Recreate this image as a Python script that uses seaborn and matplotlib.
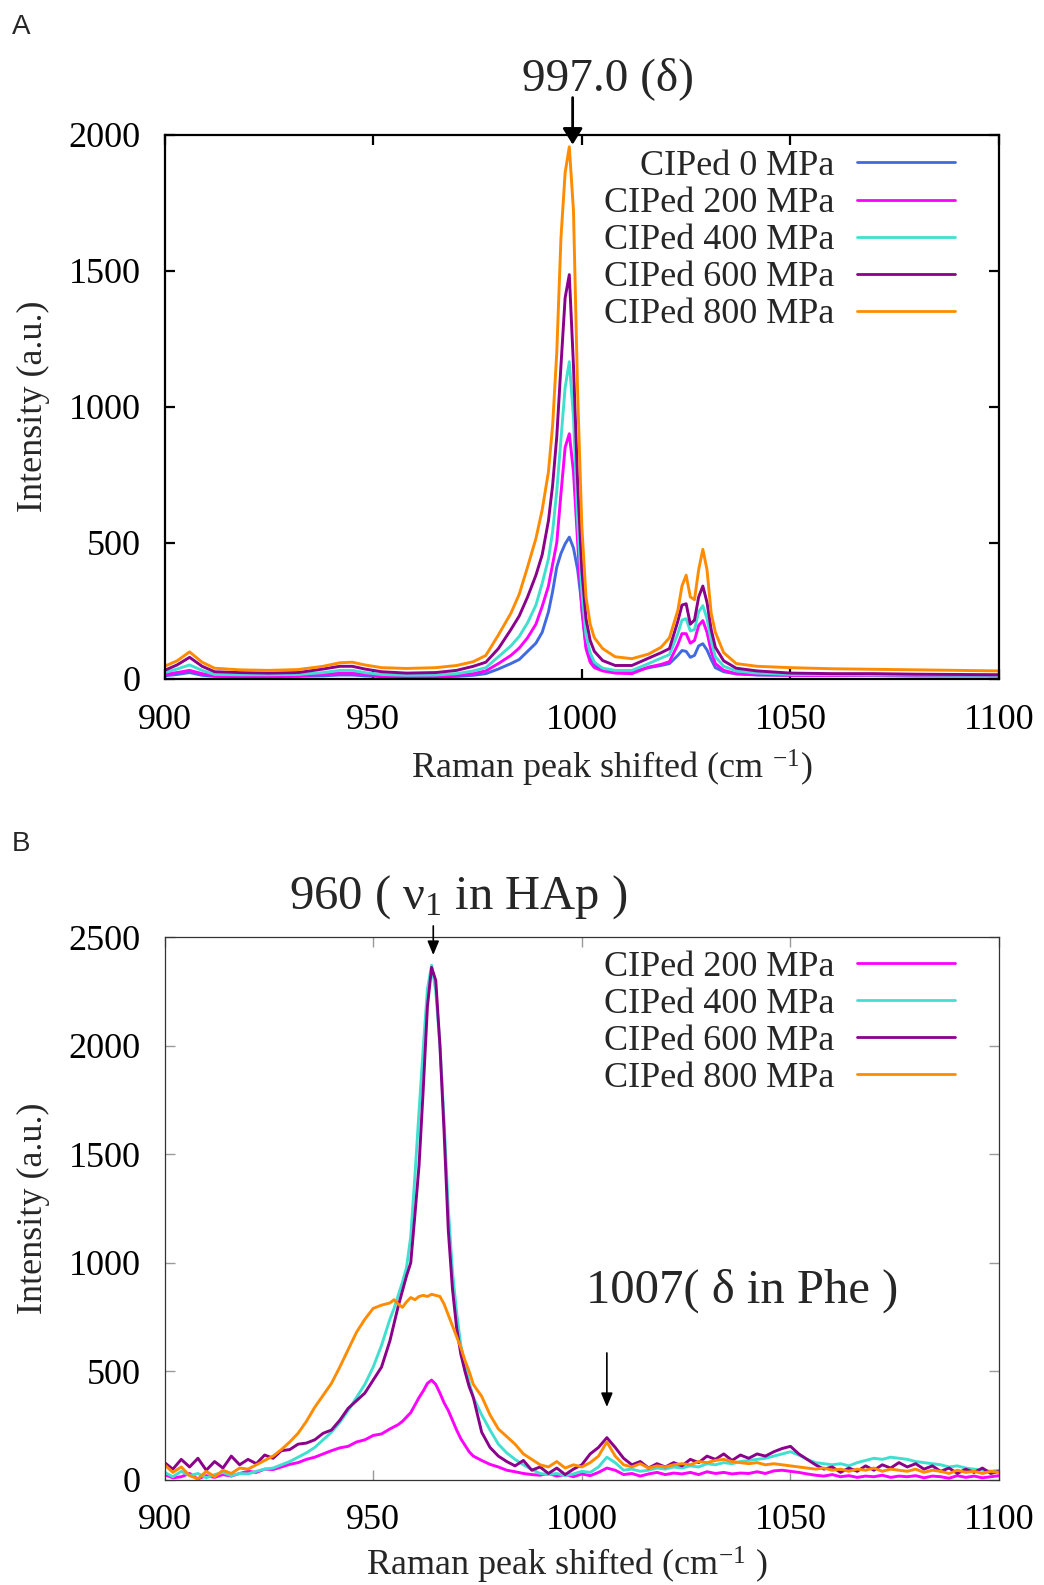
import numpy as np
import pandas as pd
import matplotlib
matplotlib.use("Agg")
import matplotlib.pyplot as plt
import seaborn as sns

# ---------------- data: panel A ----------------
x_a = [900, 903, 906, 909, 912, 918, 925, 932, 938, 942, 945, 948, 952, 958, 965,
       970, 974, 977, 980, 983, 985, 987, 989, 990.5, 992, 993, 994, 995, 996, 997,
       998, 999, 1000, 1001, 1002, 1003, 1005, 1008, 1012, 1016, 1019, 1021, 1023, 1024, 1025,
       1026, 1027, 1028, 1029, 1030, 1031, 1032, 1034, 1037, 1042, 1050, 1060, 1070, 1080, 1090,
       1100]
a_0 = [10, 15, 22, 12, 8, 7, 7, 8, 10, 13, 13, 10, 7, 6, 6,
       8, 12, 18, 35, 55, 70, 100, 130, 170, 245, 320, 410, 460, 495, 520,
       480, 400, 270, 120, 75, 50, 35, 26, 25, 40, 48, 55, 85, 103, 100,
       78, 85, 120, 128, 105, 70, 40, 25, 17, 13, 12, 11, 11, 10, 10,
       10]
a_200 = [15, 22, 30, 18, 10, 9, 9, 10, 15, 20, 20, 15, 10, 8, 9,
         12, 18, 28, 55, 85, 112, 150, 200, 265, 340, 420, 500, 680, 850, 900,
         760, 500, 250, 110, 60, 40, 28, 20, 18, 42, 52, 62, 125, 165, 165,
         130, 140, 195, 213, 170, 100, 55, 30, 18, 14, 12, 11, 11, 10, 10,
         10]
a_400 = [22, 35, 50, 30, 15, 14, 14, 15, 22, 30, 30, 22, 15, 12, 13,
         18, 28, 40, 80, 120, 155, 205, 270, 350, 440, 540, 690, 880, 1070, 1165,
         960, 580, 320, 160, 95, 60, 38, 30, 30, 55, 75, 88, 165, 215, 220,
         175, 180, 245, 268, 220, 140, 80, 45, 28, 20, 15, 14, 13, 13, 12,
         12]
a_600 = [30, 50, 78, 45, 25, 22, 20, 22, 35, 45, 45, 35, 25, 20, 22,
         30, 45, 60, 110, 180, 230, 300, 380, 455, 580, 710, 890, 1150, 1400, 1485,
         1150, 720, 400, 220, 140, 100, 66, 48, 48, 75, 95, 110, 210, 270, 275,
         200, 215, 300, 340, 280, 180, 115, 65, 38, 28, 20, 18, 18, 16, 15,
         14]
a_800 = [45, 65, 98, 60, 38, 32, 30, 33, 45, 58, 60, 50, 40, 37, 40,
         48, 62, 85, 160, 240, 310, 410, 515, 620, 760, 930, 1200, 1620, 1860, 1955,
         1720, 1050, 560, 300, 200, 150, 110, 80, 73, 90, 115, 150, 250, 340, 380,
         300, 290, 400, 475, 400, 240, 170, 95, 55, 45, 40, 36, 34, 32, 30,
         28]
labels_a = ["CIPed 0 MPa", "CIPed 200 MPa", "CIPed 400 MPa", "CIPed 600 MPa", "CIPed 800 MPa"]
colors_a = ["#4169E1", "#FF00FF", "#40E0D0", "#8B008B", "#FF8C00"]

# ---------------- data: panel B ----------------
x_b = list(range(900, 955, 2)) + list(range(955, 974)) + list(range(974, 1101, 2))
b_200 = [25, 10, 15, 30, 5, 20, 12, 25, 18, 30,
         40, 35, 50, 48, 60, 72, 80, 95, 105, 120,
         135, 148, 155, 175, 185, 205, 212, 235,
         245, 255, 270, 290, 310, 345, 380, 410, 445, 460, 440, 400, 355, 320, 275, 230, 190, 160, 130,
         110, 90, 72, 60, 45, 38, 30, 25, 22, 30,
         18, 25, 15, 28, 20, 35, 55, 45, 25, 30,
         18, 28, 35, 25, 32, 28, 35, 25, 38, 30,
         35, 28, 32, 30, 38, 30, 42, 45, 40, 35,
         28, 22, 18, 25, 15, 20, 12, 18, 15, 22,
         12, 18, 15, 20, 10, 18, 15, 8, 20, 12,
         18, 10, 15, 20]
b_400 = [35, 15, 40, 20, 30, 10, 25, 35, 20, 30,
         28, 40, 50, 55, 70, 85, 105, 125, 150, 185,
         220, 265, 320, 380, 440, 520, 620, 740,
         790, 850, 910, 980, 1120, 1400, 1700, 1990, 2260, 2370, 2250, 2000, 1650, 1250, 960, 770, 620, 530, 450,
         380, 300, 230, 165, 125, 95, 70, 48, 30, 25,
         30, 20, 28, 40, 35, 60, 105, 80, 45, 50,
         40, 45, 55, 50, 60, 55, 65, 60, 75, 70,
         80, 75, 85, 90, 95, 100, 110, 120, 130, 115,
         95, 80, 75, 70, 75, 65, 80, 90, 100, 95,
         105, 100, 95, 85, 80, 75, 70, 60, 65, 55,
         50, 45, 40, 45]
b_600 = [80, 50, 95, 60, 100, 45, 85, 55, 110, 70,
         95, 75, 115, 100, 135, 140, 165, 170, 185, 215,
         230, 275, 330, 365, 400, 460, 520, 640,
         720, 800, 870, 940, 1000, 1220, 1450, 1800, 2180, 2360, 2300, 2000, 1600, 1150, 880, 700, 580, 500, 430,
         380, 220, 150, 110, 85, 65, 90, 45, 60, 30,
         55, 25, 50, 70, 120, 150, 195, 150, 100, 70,
         85, 55, 75, 60, 80, 65, 95, 80, 110, 95,
         120, 90, 115, 100, 120, 110, 130, 145, 155, 120,
         95, 70, 50, 60, 35, 55, 40, 65, 45, 70,
         55, 80, 60, 75, 50, 65, 40, 55, 30, 50,
         35, 55, 30, 40]
b_800 = [70, 35, 60, 20, 5, 40, 15, 45, 30, 55,
         50, 70, 90, 110, 140, 175, 215, 270, 335, 390,
         445, 520, 600, 680, 740, 790, 805, 815,
         830, 810, 795, 820, 840, 830, 845, 850, 845, 855, 850, 845, 810, 760, 710, 660, 610, 550, 500,
         440, 385, 300, 235, 200, 165, 120, 95, 70, 60,
         85, 55, 70, 60, 80, 110, 175, 110, 70, 60,
         75, 55, 65, 60, 70, 75, 70, 85, 80, 90,
         95, 85, 80, 75, 80, 70, 75, 70, 65, 60,
         55, 50, 55, 45, 50, 40, 50, 45, 55, 40,
         50, 45, 40, 50, 35, 45, 40, 30, 45, 35,
         40, 30, 40, 35]
labels_b = ["CIPed 200 MPa", "CIPed 400 MPa", "CIPed 600 MPa", "CIPed 800 MPa"]
colors_b = ["#FF00FF", "#40E0D0", "#8B008B", "#FF8C00"]

x_ticks = [900, 950, 1000, 1050, 1100]
y_ticks_a = [0, 500, 1000, 1500, 2000]
y_ticks_b = [0, 500, 1000, 1500, 2000, 2500]

# ---------------- style ----------------
sns.set_style("ticks")
plt.rcParams["font.family"] = ["Liberation Serif", "DejaVu Serif"]
plt.rcParams["mathtext.fontset"] = "custom"
plt.rcParams["mathtext.rm"] = "Liberation Serif"
plt.rcParams["mathtext.it"] = "Liberation Serif"
plt.rcParams["mathtext.bf"] = "Liberation Serif:bold"

FS = 26

def long_df(x, series, labels):
    frames = []
    for lab, ys in zip(labels, series):
        frames.append(pd.DataFrame({"x": x, "y": ys, "series": lab}))
    return pd.concat(frames, ignore_index=True)

df_a = long_df(x_a, [a_0, a_200, a_400, a_600, a_800], labels_a)
df_b = long_df(x_b, [b_200, b_400, b_600, b_800], labels_b)

fig = plt.figure(figsize=(10.44, 15.85), dpi=100)
ax_a = fig.add_axes([0.1576, 0.5719, 0.7994, 0.3432])
ax_b = fig.add_axes([0.1576, 0.06625, 0.7994, 0.34258])


def setup(ax, df, labels, colors, yticks, ymax, spine_col, spine_w, tick_col, tick_w,
          xlabel, xlab_x, xlab_y, xpad, leg_top):
    sns.lineplot(data=df, x="x", y="y", hue="series", hue_order=labels,
                 palette=colors, estimator=None, lw=2.1, ax=ax)
    ax.set_xlim(900, 1100)
    ax.set_ylim(0, ymax)
    ax.set_xticks(x_ticks)
    ax.set_yticks(yticks)
    ax.set_ylabel("Intensity (a.u.)", fontsize=FS)
    ax.yaxis.set_label_coords(-0.137, 0.5)
    ax.set_xlabel(xlabel, fontsize=FS)
    ax.xaxis.set_label_coords(xlab_x, xlab_y)
    for s in ax.spines.values():
        s.set_visible(True)
        s.set_color(spine_col)
        s.set_linewidth(spine_w)
    ax.tick_params(axis="both", which="major", direction="in", length=7,
                   width=tick_w, color=tick_col, top=True, right=True,
                   bottom=True, left=True, labelsize=FS, labelcolor="black")
    ax.tick_params(axis="y", pad=17)
    ax.tick_params(axis="x", pad=xpad)
    sns.move_legend(ax, "upper right", bbox_to_anchor=(0.947, leg_top), title=None,
                    frameon=False, markerfirst=False, handlelength=2.7,
                    handletextpad=0.64, labelspacing=0.105, borderpad=0,
                    borderaxespad=0, fontsize=FS)
    for ln in ax.get_legend().get_lines():
        ln.set_linewidth(2.0)


setup(ax_a, df_a, labels_a, colors_a, y_ticks_a, 2000, "black", 1.6, "black", 1.6,
      r"Raman peak shifted (cm $^{-1}$)", 0.536, -0.128, 18, 0.972)
setup(ax_b, df_b, labels_b, colors_b, y_ticks_b, 2500, "#333333", 0.9, "#9a9a9a", 1.0,
      r"Raman peak shifted (cm$^{-1}$ )", 0.482, -0.119, 17, 0.975)

# annotations panel A
ax_a.annotate("", xy=(997.8, 1963), xytext=(997.8, 2136), annotation_clip=False,
              arrowprops=dict(arrowstyle="-|>,head_length=0.65,head_width=0.4",
                              mutation_scale=15, lw=2.0, color="black",
                              shrinkA=0, shrinkB=0))
ax_a.text(1006.3, 2165, "997.0 (δ)", fontsize=34, ha="center", va="baseline",
          clip_on=False)

# annotations panel B
ax_b.annotate("", xy=(964.4, 2417), xytext=(964.4, 2551), annotation_clip=False,
              arrowprops=dict(arrowstyle="-|>,head_length=0.6,head_width=0.25",
                              mutation_scale=14, lw=1.2, color="black",
                              shrinkA=0, shrinkB=0))
ax_b.text(970.5, 2633, r"960 ( $\nu_{1}$ in HAp )", fontsize=35, ha="center",
          va="baseline", clip_on=False)
ax_b.annotate("", xy=(1006.0, 336), xytext=(1006.0, 585),
              arrowprops=dict(arrowstyle="-|>,head_length=0.6,head_width=0.25",
                              mutation_scale=14, lw=1.2, color="black",
                              shrinkA=0, shrinkB=0))
ax_b.text(1038.3, 815, "1007( δ in Phe )", fontsize=35, ha="center", va="baseline")

fig.text(12 / 1044, 1 - 14 / 1585, "A", fontsize=20, family="Liberation Sans",
         ha="left", va="top")
fig.text(12 / 1044, 1 - 831 / 1585, "B", fontsize=20, family="Liberation Sans",
         ha="left", va="top")

fig.savefig("out.png", dpi=100)
